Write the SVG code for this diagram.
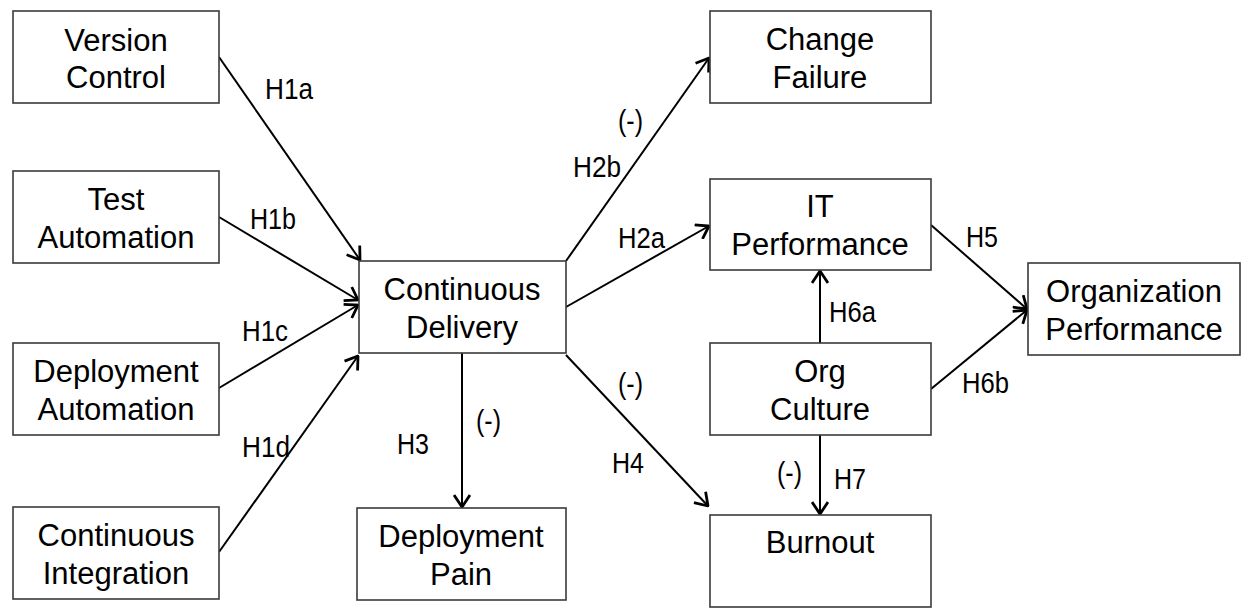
<svg xmlns="http://www.w3.org/2000/svg" width="1257" height="609" viewBox="0 0 1257 609">
<style>
.box{fill:#fff;stroke:#3a3a3a;stroke-width:1.6}
.t{font-family:"Liberation Sans",Arial,sans-serif;font-size:31px;fill:#000;text-anchor:middle}
.l{font-family:"Liberation Sans",Arial,sans-serif;font-size:29px;fill:#000}
.c{fill:none;stroke:#000;stroke-width:2;marker-end:url(#ah)}
</style>
<defs>
<marker id="ah" viewBox="0 0 14 18" refX="13" refY="9" markerWidth="14" markerHeight="18" markerUnits="userSpaceOnUse" orient="auto">
<path d="M1,1 L13,9 L1,17" fill="none" stroke="#000" stroke-width="2.8"/>
</marker>
</defs>
<g id="connectors">
<line class="c" x1="219" y1="57" x2="360" y2="260"/>
<line class="c" x1="219" y1="217" x2="358" y2="300"/>
<line class="c" x1="219" y1="388" x2="358" y2="305"/>
<line class="c" x1="219" y1="552" x2="358" y2="356"/>
<line class="c" x1="566" y1="261" x2="709" y2="58"/>
<line class="c" x1="566" y1="307" x2="709" y2="226"/>
<line class="c" x1="462" y1="353" x2="462" y2="507"/>
<line class="c" x1="566" y1="355" x2="708" y2="506"/>
<line class="c" x1="931" y1="225" x2="1027" y2="309"/>
<line class="c" x1="820" y1="343" x2="820" y2="271"/>
<line class="c" x1="931" y1="389" x2="1027" y2="310"/>
<line class="c" x1="820" y1="435" x2="820" y2="514"/>
</g>
<g id="labels">
<text class="l" x="265" y="99" textLength="48" lengthAdjust="spacingAndGlyphs">H1a</text>
<text class="l" x="250" y="229" textLength="46" lengthAdjust="spacingAndGlyphs">H1b</text>
<text class="l" x="242" y="341" textLength="46" lengthAdjust="spacingAndGlyphs">H1c</text>
<text class="l" x="242" y="457" textLength="48" lengthAdjust="spacingAndGlyphs">H1d</text>
<text class="l" x="618" y="131" textLength="25" lengthAdjust="spacingAndGlyphs">(-)</text>
<text class="l" x="573" y="177" textLength="48" lengthAdjust="spacingAndGlyphs">H2b</text>
<text class="l" x="618" y="248" textLength="47" lengthAdjust="spacingAndGlyphs">H2a</text>
<text class="l" x="397" y="454" textLength="32" lengthAdjust="spacingAndGlyphs">H3</text>
<text class="l" x="476" y="431" textLength="25" lengthAdjust="spacingAndGlyphs">(-)</text>
<text class="l" x="618" y="394" textLength="25" lengthAdjust="spacingAndGlyphs">(-)</text>
<text class="l" x="612" y="473" textLength="32" lengthAdjust="spacingAndGlyphs">H4</text>
<text class="l" x="966" y="247" textLength="32" lengthAdjust="spacingAndGlyphs">H5</text>
<text class="l" x="829" y="322" textLength="47" lengthAdjust="spacingAndGlyphs">H6a</text>
<text class="l" x="962" y="393" textLength="47" lengthAdjust="spacingAndGlyphs">H6b</text>
<text class="l" x="777" y="483" textLength="25" lengthAdjust="spacingAndGlyphs">(-)</text>
<text class="l" x="834" y="489" textLength="32" lengthAdjust="spacingAndGlyphs">H7</text>
</g>
<g id="version-control"><rect class="box" x="13" y="11" width="206" height="92"/><text class="t" x="116" y="51">Version</text><text class="t" x="116" y="88">Control</text></g>
<g id="test-automation"><rect class="box" x="13" y="171" width="206" height="92"/><text class="t" x="116" y="210">Test</text><text class="t" x="116" y="248">Automation</text></g>
<g id="deployment-automation"><rect class="box" x="13" y="343" width="206" height="92"/><text class="t" x="116" y="382">Deployment</text><text class="t" x="116" y="420">Automation</text></g>
<g id="continuous-integration"><rect class="box" x="13" y="507" width="206" height="92"/><text class="t" x="116" y="546">Continuous</text><text class="t" x="116" y="584">Integration</text></g>
<g id="continuous-delivery"><rect class="box" x="359" y="261" width="207" height="92"/><text class="t" x="462" y="300">Continuous</text><text class="t" x="462" y="338">Delivery</text></g>
<g id="deployment-pain"><rect class="box" x="357" y="508" width="209" height="92"/><text class="t" x="461" y="547">Deployment</text><text class="t" x="461" y="585">Pain</text></g>
<g id="change-failure"><rect class="box" x="710" y="11" width="221" height="92"/><text class="t" x="820" y="50">Change</text><text class="t" x="820" y="88">Failure</text></g>
<g id="it-performance"><rect class="box" x="710" y="179" width="221" height="91"/><text class="t" x="820" y="217">IT</text><text class="t" x="820" y="255">Performance</text></g>
<g id="org-culture"><rect class="box" x="710" y="343" width="221" height="92"/><text class="t" x="820" y="382">Org</text><text class="t" x="820" y="420">Culture</text></g>
<g id="burnout"><rect class="box" x="710" y="515" width="221" height="92"/><text class="t" x="820" y="553">Burnout</text></g>
<g id="organization-performance"><rect class="box" x="1028" y="263" width="212" height="92"/><text class="t" x="1134" y="302">Organization</text><text class="t" x="1134" y="340">Performance</text></g>
</svg>
